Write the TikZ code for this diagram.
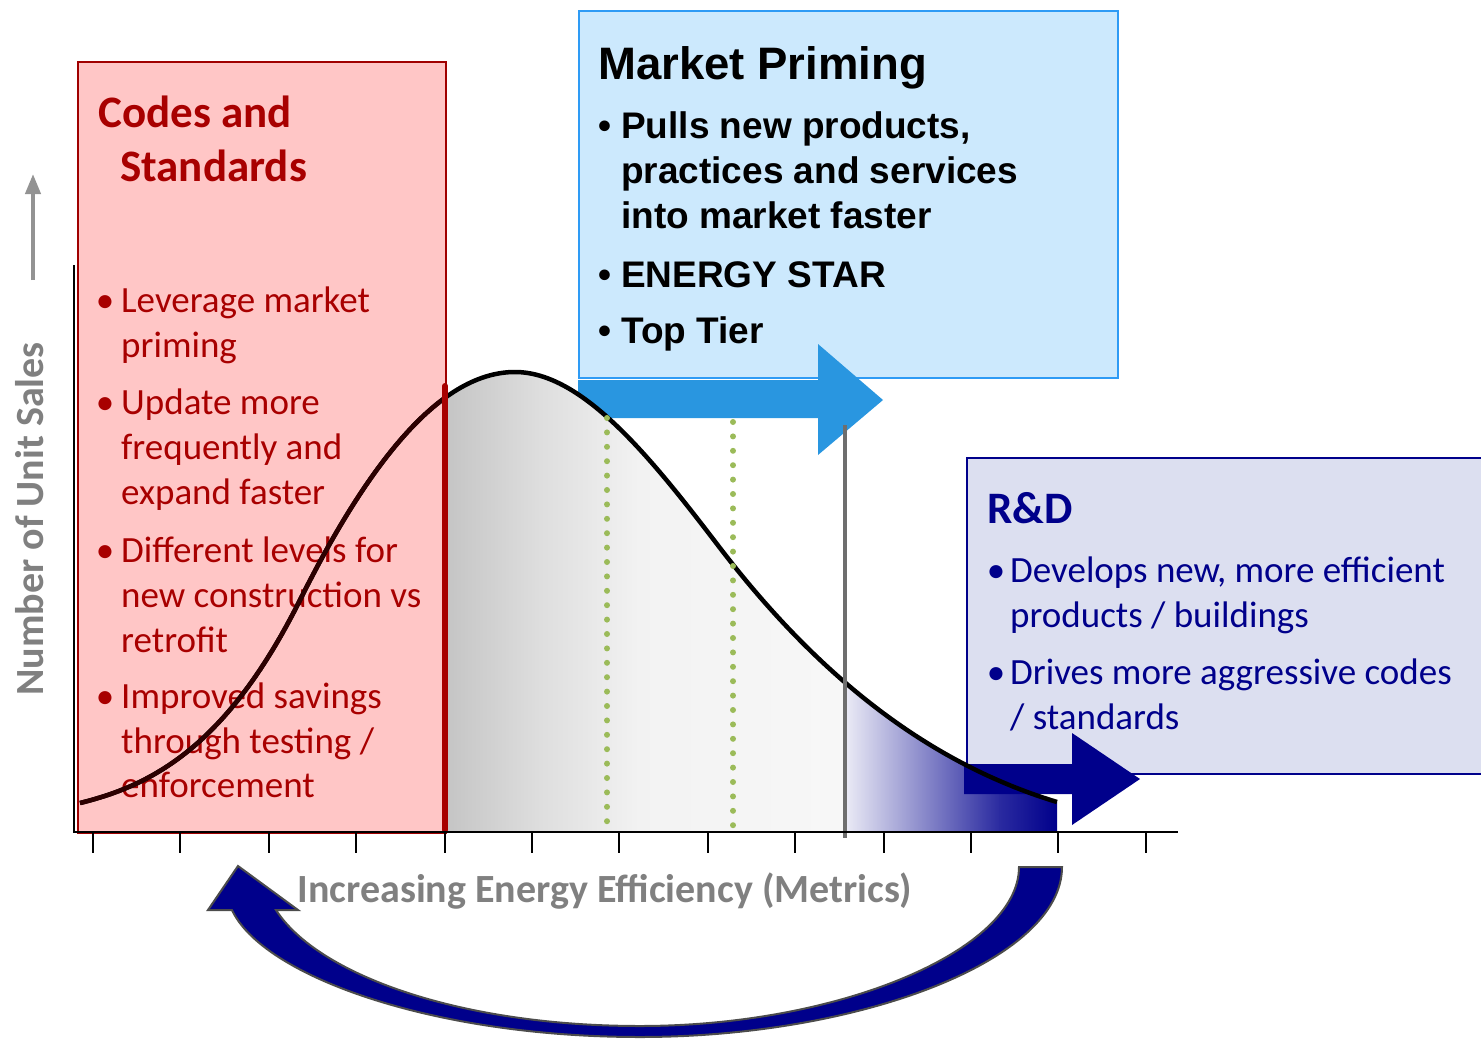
\documentclass[tikz,border=0pt]{standalone}
\usepackage{fontspec}
\setmainfont{Carlito}
\newfontfamily\arialfont{Liberation Sans}
\usetikzlibrary{arrows.meta}
\definecolor{cred}{HTML}{A80000}
\definecolor{redfill}{HTML}{FFC6C6}
\definecolor{redline}{HTML}{A00000}
\definecolor{mpfill}{HTML}{CCE9FD}
\definecolor{mpline}{HTML}{2E9BF5}
\definecolor{mparrow}{HTML}{2996E0}
\definecolor{rdfill}{HTML}{DCDFF0}
\definecolor{navy}{HTML}{00008B}
\definecolor{lavlight}{HTML}{ECECF6}
\definecolor{lavmid}{HTML}{2A2AA0}
\definecolor{dotgreen}{HTML}{9BBB59}
\definecolor{axgray}{HTML}{808080}
\definecolor{curvebrown}{HTML}{2C0000}
\tikzset{
  base/.style={anchor=base west, inner sep=0pt},
  redtitle/.style={base, text=cred, font=\fontsize{45}{54}\selectfont\bfseries},
  redtxt/.style={base, text=cred, font=\fontsize{37}{44}\selectfont},
  redbul/.style={anchor=base, inner sep=0pt, text=cred, font=\fontsize{37}{44}\selectfont},
  bluetitle/.style={base, text=navy, font=\fontsize{45}{54}\selectfont\bfseries},
  bluetxt/.style={base, text=navy, font=\fontsize{37}{44}\selectfont},
  bluebul/.style={anchor=base, inner sep=0pt, text=navy, font=\fontsize{37}{44}\selectfont},
  mptitle/.style={base, text=black, font=\arialfont\fontsize{45.5}{54}\selectfont\bfseries},
  mptxt/.style={base, text=black, font=\arialfont\fontsize{37}{44}\selectfont\bfseries},
  mpbul/.style={anchor=base, inner sep=0pt, text=black, font=\arialfont\fontsize{37}{44}\selectfont\bfseries},
  axlabel/.style={inner sep=0pt, text=axgray, font=\fontsize{40}{46}\selectfont\bfseries},
  dotline/.style={dotgreen, line width=6pt, line cap=round, dash pattern=on 0pt off 14.4pt},
  tick/.style={line width=2.5pt, black},
  bell/.style={line width=4.5pt},
}
\def\bellpath{(80,803) .. controls (153,785) and (227,746) .. (300,600) .. controls (372,456) and (443,372) .. (515,372) .. controls (583,372) and (652,459) .. (720,548) .. controls (832,694) and (945,768) .. (1057,802)}
\begin{document}
\begin{tikzpicture}[x=1pt,y=-1pt]
\useasboundingbox (0,0) rectangle (1481,1039);

% Market Priming box
\node[draw=mpline, fill=mpfill, line width=2pt, minimum width=539pt, minimum height=367pt, anchor=north west, inner sep=0pt] (mpbox) at (578,10) {};
% blue arrow
\fill[mparrow] (578,380) -- (818,380) -- (818,344) -- (883,400) -- (818,455) -- (818,418) -- (578,418) -- cycle;

% R&D box
\node[draw=navy, fill=rdfill, line width=2pt, minimum width=516pt, minimum height=316pt, anchor=north west, inner sep=0pt] (rdbox) at (966,457) {};

% Codes box
\node[draw=redline, fill=redfill, line width=1.5pt, minimum width=368pt, minimum height=771pt, anchor=north west, inner sep=0pt] (csbox) at (77,61) {};

% texts in Codes box
\node[redtitle] (cs1) at (98,127) {Codes and};
\node[redtitle] (cs2) at (120,181) {Standards};
\node[redbul] (rb1) at (105,312) {•};
\node[redtxt] (r11) at (121,312) {Leverage market};
\node[redtxt] (r12) at (121,357) {priming};
\node[redbul] (rb2) at (105,414) {•};
\node[redtxt] (r21) at (121,414) {Update more};
\node[redtxt] (r22) at (121,459) {frequently and};
\node[redtxt] (r23) at (121,504) {expand faster};
\node[redbul] (rb3) at (105,562) {•};
\node[redtxt] (r31) at (121,562) {Different levels for};
\node[redtxt] (r32) at (121,607) {new construction vs};
\node[redtxt] (r33) at (121,652) {retrofit};
\node[redbul] (rb4) at (105,708) {•};
\node[redtxt] (r41) at (121,708) {Improved savings};
\node[redtxt] (r42) at (121,753) {through testing /};
\node[redtxt] (r43) at (121,797) {enforcement};

% shading under the curve
\begin{scope}
\clip \bellpath -- (1057,832) -- (80,832) -- cycle;
\shade[left color=black!23, right color=black!13] (445,300) rectangle (540,832);
\shade[left color=black!13, right color=black!5] (539.5,300) rectangle (640,832);
\shade[left color=black!5, right color=black!3] (639.5,300) rectangle (845,832);
\shade[left color=lavlight, right color=lavmid] (844.5,300) rectangle (1000,832);
\shade[left color=lavmid, right color=navy] (999.5,300) rectangle (1057,832);
\end{scope}

% navy arrow
\fill[navy] (964,764) -- (1072,764) -- (1072,733) -- (1140,779) -- (1072,825) -- (1072,794) -- (964,794) -- cycle;

% bell curve
\draw[bell, black] \bellpath;
\begin{scope}
\clip (0,0) rectangle (445,840);
\draw[bell, curvebrown] \bellpath;
\end{scope}

% vertical markers
\coordinate (g1t) at (607,418); \coordinate (g1b) at (607,828);
\coordinate (g2t) at (733,422); \coordinate (g2b) at (733,832);
\draw[dotline] (g1t) -- (g1b);
\draw[dotline] (g2t) -- (g2b);
\coordinate (grt) at (845,425); \coordinate (grb) at (845,838);
\draw[line width=4pt, black!57] (grt) -- (grb);
\coordinate (rlt) at (445,386); \coordinate (rlb) at (445,830);
\draw[line width=6pt, cred, line cap=round] (rlt) -- (rlb);

% axes
\coordinate (o) at (74,832);
\coordinate (ytop) at (74,265);
\coordinate (xend) at (1178,832);
\draw[line width=2.5pt, black] (ytop) -- (o) -- (xend);
\foreach \x in {93,180,269,356,445,532,619,708,795,884,971,1058,1146}
  \draw[tick] (\x,832) -- (\x,853);

% up arrow
\coordinate (ua1) at (33,280); \coordinate (ua2) at (33,174);
\draw[line width=4pt, axgray!85, -{Triangle[length=20pt, width=15pt]}] (ua1) -- (ua2);

% axis labels
\node[axlabel, rotate=90] (ylab) at (30,519) {Number of Unit Sales};
\node[axlabel] (xlab) at (605,891) {Increasing Energy Efficiency (Metrics)};

% Market Priming texts
\node[mptitle] (mp0) at (598,79) {Market Priming};
\node[mpbul] (mb1) at (605,138) {•};
\node[mptxt] (m11) at (621,138) {Pulls new products,};
\node[mptxt] (m12) at (621,183) {practices and services};
\node[mptxt] (m13) at (621,228) {into market faster};
\node[mpbul] (mb2) at (605,287) {•};
\node[mptxt] (m21) at (621,287) {ENERGY STAR};
\node[mpbul] (mb3) at (605,343) {•};
\node[mptxt] (m31) at (621,343) {Top Tier};

% R&D texts
\node[bluetitle] (rd0) at (987,523) {R\&D};
\node[bluebul] (bb1) at (996,582) {•};
\node[bluetxt] (b11) at (1010,582) {Develops new, more efficient};
\node[bluetxt] (b12) at (1010,627) {products / buildings};
\node[bluebul] (bb2) at (996,684) {•};
\node[bluetxt] (b21) at (1010,684) {Drives more aggressive codes};
\node[bluetxt] (b22) at (1010,729) {/ standards};

% bottom curved arrow
\fill[navy, draw=black!70, line width=2pt]
  (1019,867) -- (1062,867)
  .. controls (1062,960) and (860,1037) .. (640,1037)
  .. controls (430,1037) and (262,975) .. (232,910)
  -- (208,910) -- (238,866) -- (298,910) -- (276,910)
  .. controls (318,975) and (460,1026) .. (640,1026)
  .. controls (840,1026) and (1019,950) .. (1019,867) -- cycle;
\end{tikzpicture}
\end{document}
